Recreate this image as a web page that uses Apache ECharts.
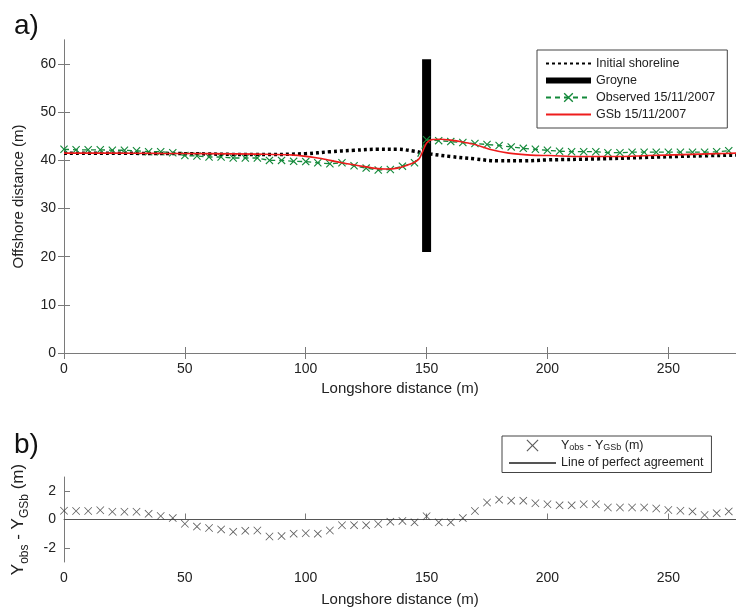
<!DOCTYPE html>
<html>
<head>
<meta charset="utf-8">
<script src="https://cdn.jsdelivr.net/npm/echarts@6/dist/echarts.min.js"></script>
<style>
  html, body { margin: 0; padding: 0; background: #fff; }
  #chart { width: 736px; height: 610px; }
</style>
</head>
<body>
<div id="chart"></div>
<script>
// --- data ---
const distX = [0, 5, 10, 15, 20, 25, 30, 35, 40, 45, 50, 55, 60, 65, 70, 75, 80, 85, 90, 95,
  100, 105, 110, 115, 120, 125, 130, 135, 140, 145, 150, 155, 160, 165, 170, 175, 180, 185, 190, 195,
  200, 205, 210, 215, 220, 225, 230, 235, 240, 245, 250, 255, 260, 265, 270, 275];

const observed = [42.3, 42.2, 42.2, 42.2, 42.1, 42.1, 42.0, 41.8, 41.8, 41.6,
  41.0, 40.9, 40.7, 40.7, 40.5, 40.5,
  40.5, 40.0, 40.0, 39.8, 39.75, 39.5, 39.3, 39.5, 38.9, 38.4, 38.0, 38.1, 38.8, 39.5,
  44.3, 44.1, 43.9, 43.7, 43.5, 43.3, 43.1, 42.8, 42.5, 42.3, 42.1, 41.9, 41.8, 41.8, 41.8,
  41.6, 41.6, 41.7, 41.7, 41.7, 41.7, 41.7, 41.7, 41.7, 41.8, 42.0];

const residual = [0.62, 0.6, 0.6, 0.65, 0.55, 0.55, 0.55, 0.4, 0.25, 0.1,
  -0.3, -0.5, -0.6, -0.7, -0.87, -0.8,
  -0.78, -1.2, -1.17, -1.0, -0.97, -1.0, -0.78, -0.41, -0.4, -0.4, -0.32, -0.15, -0.1, -0.2,
  0.23, -0.2, -0.2, 0.1, 0.6, 1.2, 1.4, 1.33, 1.33, 1.15, 1.08, 1.0, 1.0, 1.08, 1.08,
  0.85, 0.85, 0.85, 0.85, 0.78, 0.67, 0.62, 0.57, 0.32, 0.45, 0.57];

const gsbX = [0, 20, 40, 60, 80, 95, 105, 110, 115, 122, 128, 133, 138, 142, 145, 147, 148.5, 150,
  152, 156, 160, 165, 170, 176, 184, 193, 201, 214, 228, 242, 256, 270, 278];
const gsbY = [41.5, 41.5, 41.45, 41.4, 41.3, 41.1, 40.5, 40.0, 39.5, 38.9, 38.4, 38.2, 38.4, 39.0, 39.6, 40.4, 42.0, 43.6,
  44.3, 44.4, 44.2, 43.8, 43.3, 42.3, 41.5, 41.1, 41.0, 40.8, 40.8, 41.0, 41.2, 41.4, 41.5];

const initX = [0, 50, 80, 100, 110, 120, 130, 138, 145, 148, 152, 160, 170, 180, 190, 200, 220, 240, 260, 278];
const initY = [41.5, 41.4, 41.2, 41.4, 41.8, 42.1, 42.3, 42.3, 41.9, 41.6, 41.3, 40.8, 40.3, 39.9, 39.9, 40.1, 40.3, 40.6, 40.9, 41.1];

const groyneX = [150, 150];
const groyneY = [21, 61];

const perfectX = [0, 278];
const perfectY = [0, 0];

const xTicks = [0, 50, 100, 150, 200, 250];
const yTicksA = [0, 10, 20, 30, 40, 50, 60];
const yTicksB = [-2, 0, 2];

const zip = (xs, ys) => xs.map((x, i) => [x, ys[i]]);

// --- styles ---
const FONT = "'Liberation Sans', Arial, Helvetica, sans-serif";
const AXIS_COLOR = '#7a7a7a';
const TEXT_COLOR = '#222';
const GREEN = '#13893a';
const CROSS = 'path://M0,1L1,0L5,4L9,0L10,1L6,5L10,9L9,10L5,6L1,10L0,9L4,5Z';
const THIN_CROSS = 'path://M0,0.7L0.7,0L5,4.3L9.3,0L10,0.7L5.7,5L10,9.3L9.3,10L5,5.7L0.7,10L0,9.3L4.3,5Z';

function xAxisBase(grid, pos) {
  return {
    type: 'value', gridIndex: grid, position: pos, min: 0, max: 278,
    axisLine: { show: true, lineStyle: { color: AXIS_COLOR, width: 1 } },
    axisTick: { show: true, inside: true, length: 6, customValues: xTicks, lineStyle: { color: AXIS_COLOR } },
    axisLabel: { show: pos === 'bottom', customValues: xTicks, color: TEXT_COLOR, fontSize: 14, fontFamily: FONT, margin: 9 },
    splitLine: { show: false }
  };
}

const noMark = { opacity: 0 };

const option = {
  animation: false,
  textStyle: { fontFamily: FONT },
  grid: [
    { left: 64, top: 40, right: 0, height: 313 },
    { left: 64, top: 477, right: 0, height: 85 }
  ],
  graphic: [
    { type: 'text', left: 14, top: 12, style: { text: 'a)', fontSize: 28, fontFamily: FONT, fill: '#111' } },
    { type: 'text', left: 14, top: 431, style: { text: 'b)', fontSize: 28, fontFamily: FONT, fill: '#111' } }
  ],
  xAxis: [
    Object.assign(xAxisBase(0, 'bottom'), {
      name: 'Longshore distance (m)', nameLocation: 'middle', nameGap: 27,
      nameTextStyle: { color: TEXT_COLOR, fontSize: 15, fontFamily: FONT }
    }),
    xAxisBase(0, 'top'),
    Object.assign(xAxisBase(1, 'bottom'), {
      name: 'Longshore distance (m)', nameLocation: 'middle', nameGap: 30,
      nameTextStyle: { color: TEXT_COLOR, fontSize: 15, fontFamily: FONT }
    })
  ],
  yAxis: [
    {
      type: 'value', gridIndex: 0, min: 0, max: 65,
      name: 'Offshore distance (m)', nameLocation: 'middle', nameGap: 38, nameRotate: 90,
      nameTextStyle: { color: TEXT_COLOR, fontSize: 15, fontFamily: FONT },
      axisLine: { show: true, lineStyle: { color: AXIS_COLOR } },
      axisTick: { show: true, inside: true, length: 6, customValues: yTicksA, lineStyle: { color: AXIS_COLOR } },
      axisLabel: { customValues: yTicksA, color: TEXT_COLOR, fontSize: 14, fontFamily: FONT, margin: 8 },
      splitLine: { show: false }
    },
    {
      type: 'value', gridIndex: 0, position: 'right', min: 0, max: 65,
      axisLine: { show: true, lineStyle: { color: AXIS_COLOR } },
      axisTick: { show: true, inside: true, length: 6, customValues: yTicksA, lineStyle: { color: AXIS_COLOR } },
      axisLabel: { show: false },
      splitLine: { show: false }
    },
    {
      type: 'value', gridIndex: 1, min: -3, max: 3,
      name: '{n|Y}{s|obs}{n| - Y}{s|GSb}{n| (m)}', nameLocation: 'middle', nameGap: 33, nameRotate: 90,
      nameTextStyle: {
        color: TEXT_COLOR, fontFamily: FONT,
        rich: {
          n: { fontSize: 17, fontFamily: FONT, color: TEXT_COLOR, lineHeight: 26, verticalAlign: 'middle' },
          s: { fontSize: 12, fontFamily: FONT, color: TEXT_COLOR, lineHeight: 26, verticalAlign: 'bottom' }
        }
      },
      axisLine: { show: true, lineStyle: { color: AXIS_COLOR } },
      axisTick: { show: true, inside: true, length: 6, customValues: yTicksB, lineStyle: { color: AXIS_COLOR } },
      axisLabel: { customValues: yTicksB, color: TEXT_COLOR, fontSize: 14, fontFamily: FONT, margin: 8 },
      splitLine: { show: false }
    }
  ],
  legend: [
    {
      left: 537, top: 50, orient: 'vertical',
      backgroundColor: '#fff', borderColor: '#444', borderWidth: 1, borderRadius: 0,
      padding: [7, 12, 7, 6], itemWidth: 45, itemHeight: 12, itemGap: 4,
      textStyle: { color: TEXT_COLOR, fontSize: 12.5, fontFamily: FONT },
      data: [
        { name: 'Initial shoreline', itemStyle: noMark },
        { name: 'Groyne', itemStyle: noMark, lineStyle: { width: 6 } },
        { name: 'Observed 15/11/2007' },
        { name: 'GSb 15/11/2007', itemStyle: noMark }
      ]
    },
    {
      left: 502, top: 436, orient: 'vertical',
      backgroundColor: '#fff', borderColor: '#444', borderWidth: 1, borderRadius: 0,
      padding: [3, 8, 3, 6], itemWidth: 47, itemHeight: 12, itemGap: 4,
      textStyle: {
        color: TEXT_COLOR, fontSize: 12.5, fontFamily: FONT,
        rich: {
          n: { fontSize: 12.5, fontFamily: FONT, color: TEXT_COLOR, lineHeight: 14, verticalAlign: 'middle' },
          s: { fontSize: 9, fontFamily: FONT, color: TEXT_COLOR, lineHeight: 14, verticalAlign: 'bottom' }
        }
      },
      formatter: n => n === 'Yobs - YGSb (m)' ? '{n|Y}{s|obs}{n| - Y}{s|GSb}{n| (m)}' : n,
      data: [{ name: 'Yobs - YGSb (m)' }, { name: 'Line of perfect agreement', itemStyle: noMark }]
    }
  ],
  series: [
    {
      name: 'Initial shoreline', type: 'line', xAxisIndex: 0, yAxisIndex: 0,
      data: zip(initX, initY), smooth: 0.4, showSymbol: false, symbol: 'none',
      lineStyle: { color: '#000', width: 3.5, type: [3, 3], cap: 'butt' }, itemStyle: { color: '#000' }, z: 2
    },
    {
      name: 'Groyne', type: 'line', xAxisIndex: 0, yAxisIndex: 0,
      data: zip(groyneX, groyneY), symbol: 'none',
      lineStyle: { color: '#000', width: 9, cap: 'butt' }, itemStyle: { color: '#000' }, z: 3
    },
    {
      name: 'Observed 15/11/2007', type: 'line', xAxisIndex: 0, yAxisIndex: 0,
      data: zip(distX, observed), symbol: CROSS, symbolSize: 8, showSymbol: true,
      lineStyle: { color: GREEN, width: 1.3, type: [5, 4] }, itemStyle: { color: GREEN }, z: 4
    },
    {
      name: 'GSb 15/11/2007', type: 'line', xAxisIndex: 0, yAxisIndex: 0,
      data: zip(gsbX, gsbY), smooth: 0.3, symbol: 'none',
      lineStyle: { color: '#ee1c1c', width: 1.6 }, itemStyle: { color: '#ee1c1c' }, z: 5
    },
    {
      name: 'Yobs - YGSb (m)', type: 'scatter', xAxisIndex: 2, yAxisIndex: 2,
      data: zip(distX, residual), symbol: THIN_CROSS, symbolSize: 8,
      itemStyle: { color: '#333' }, z: 4
    },
    {
      name: 'Line of perfect agreement', type: 'line', xAxisIndex: 2, yAxisIndex: 2,
      data: zip(perfectX, perfectY), symbol: 'none',
      lineStyle: { color: '#555', width: 1 }, itemStyle: { color: '#555' }, z: 3
    }
  ]
};

const chart = echarts.init(document.getElementById('chart'), null, { renderer: 'canvas' });
chart.setOption(option);
</script>
</body>
</html>
